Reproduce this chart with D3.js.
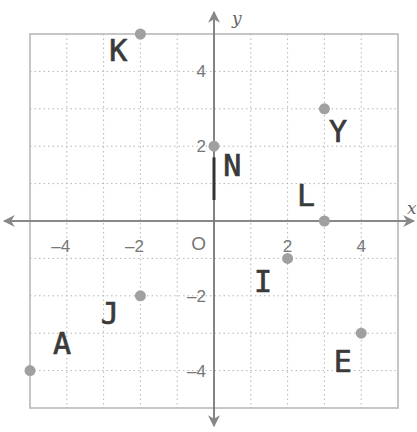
<!DOCTYPE html>
<html><head><meta charset="utf-8">
<script src="https://cdn.jsdelivr.net/npm/d3@7"></script>
<style>body{margin:0;background:#fff}svg{display:block}</style>
</head><body>
<script>
const points = ["K","N","Y","L","I","J","A","E"];
const px = [-2, 0, 3, 3, 2, -2, -5, 4];
const py = [5, 2, 3, 0, -1, -2, -4, -3];
// handwritten label offsets in data units
const ldx = [-0.6, 0.5, 0.37, -0.5, -0.67, -0.83, 0.87, -0.5];
const ldy = [-0.5, -0.58, -0.65, 0.64, -0.66, -0.54, 0.66, -0.82];
const xTicks = [-4, -2, 2, 4];
const yTicks = [4, 2, -2, -4];
const gridVals = [-5,-4,-3,-2,-1,0,1,2,3,4,5];

const W = 417, H = 432;
const x = d3.scaleLinear().domain([-5, 5]).range([30, 398]);
const y = d3.scaleLinear().domain([-5, 5]).range([408, 34]);

const svg = d3.select("body").append("svg").attr("width", W).attr("height", H);

// grid
const grid = svg.append("g").attr("stroke", "#b5b5b5").attr("stroke-width", 1).attr("stroke-dasharray", "1.5,3");
grid.selectAll(".v").data(gridVals.slice(1, -1)).join("line")
  .attr("x1", d => x(d)).attr("x2", d => x(d)).attr("y1", y(5)).attr("y2", y(-5));
grid.selectAll(".h").data(gridVals.slice(1, -1)).join("line")
  .attr("y1", d => y(d)).attr("y2", d => y(d)).attr("x1", x(-5)).attr("x2", x(5));

// border
svg.append("rect").attr("x", x(-5)).attr("y", y(5)).attr("width", x(5) - x(-5)).attr("height", y(-5) - y(5))
  .attr("fill", "none").attr("stroke", "#b8b8b8").attr("stroke-width", 1.6);

// axes with arrows
const defs = svg.append("defs");
defs.append("marker").attr("id", "arr").attr("viewBox", "0 0 10 10").attr("refX", 9).attr("refY", 5)
  .attr("markerWidth", 12).attr("markerHeight", 12).attr("orient", "auto-start-reverse").attr("markerUnits", "userSpaceOnUse")
  .append("path").attr("d", "M0,0 L10,5 L0,10 L3,5 Z").attr("fill", "#888");
svg.append("line").attr("x1", 4).attr("x2", 414).attr("y1", y(0)).attr("y2", y(0))
  .attr("stroke", "#888").attr("stroke-width", 1.8)
  .attr("marker-start", "url(#arr)").attr("marker-end", "url(#arr)");
svg.append("line").attr("x1", x(0)).attr("x2", x(0)).attr("y1", 12).attr("y2", 426)
  .attr("stroke", "#777").attr("stroke-width", 1.8)
  .attr("marker-start", "url(#arr)").attr("marker-end", "url(#arr)");

// axis names
svg.append("text").attr("x", 232).attr("y", 24).text("y")
  .attr("font-family", "DejaVu Serif").attr("font-style", "italic").attr("font-size", 17).attr("fill", "#666");
svg.append("text").attr("x", 407).attr("y", 214).text("x")
  .attr("font-family", "DejaVu Serif").attr("font-style", "italic").attr("font-size", 17).attr("fill", "#666");

// tick labels
const tf = "Liberation Sans";
svg.selectAll(".xt").data(xTicks).join("text")
  .attr("x", d => x(d) - (d < 0 ? 6 : 0)).attr("y", y(0) + 31).attr("text-anchor", "middle")
  .attr("font-family", tf).attr("font-size", 17).attr("fill", "#777")
  .text(d => d < 0 ? "\u2013" + Math.abs(d) : d);
svg.selectAll(".yt").data(yTicks).join("text")
  .attr("x", x(0) - 8).attr("y", d => y(d) + 6).attr("text-anchor", "end")
  .attr("font-family", tf).attr("font-size", 17).attr("fill", "#777")
  .text(d => d < 0 ? "\u2013" + Math.abs(d) : d);
svg.append("text").attr("x", x(0) - 8).attr("y", y(0) + 29).attr("text-anchor", "end")
  .attr("font-family", tf).attr("font-size", 19).attr("fill", "#777").text("O");

// thick mark under N
svg.append("line").attr("x1", x(0)).attr("x2", x(0)).attr("y1", y(1.7)).attr("y2", y(0.56))
  .attr("stroke", "#333").attr("stroke-width", 3);

// points
svg.selectAll(".pt").data(points).join("circle")
  .attr("cx", (d, i) => x(px[i])).attr("cy", (d, i) => y(py[i])).attr("r", 5.5)
  .attr("fill", "#a0a0a0");

// handwritten labels
svg.selectAll(".lb").data(points).join("text")
  .attr("x", (d, i) => x(px[i] + ldx[i])).attr("y", (d, i) => y(py[i] + ldy[i]))
  .attr("text-anchor", "middle").attr("dominant-baseline", "middle")
  .attr("font-family", "DejaVu Sans Mono").attr("font-size", 30)
  .attr("fill", "#3a3a3a").attr("stroke", "#3a3a3a").attr("stroke-width", 0.7)
  .text(d => d);
</script>
</body></html>
